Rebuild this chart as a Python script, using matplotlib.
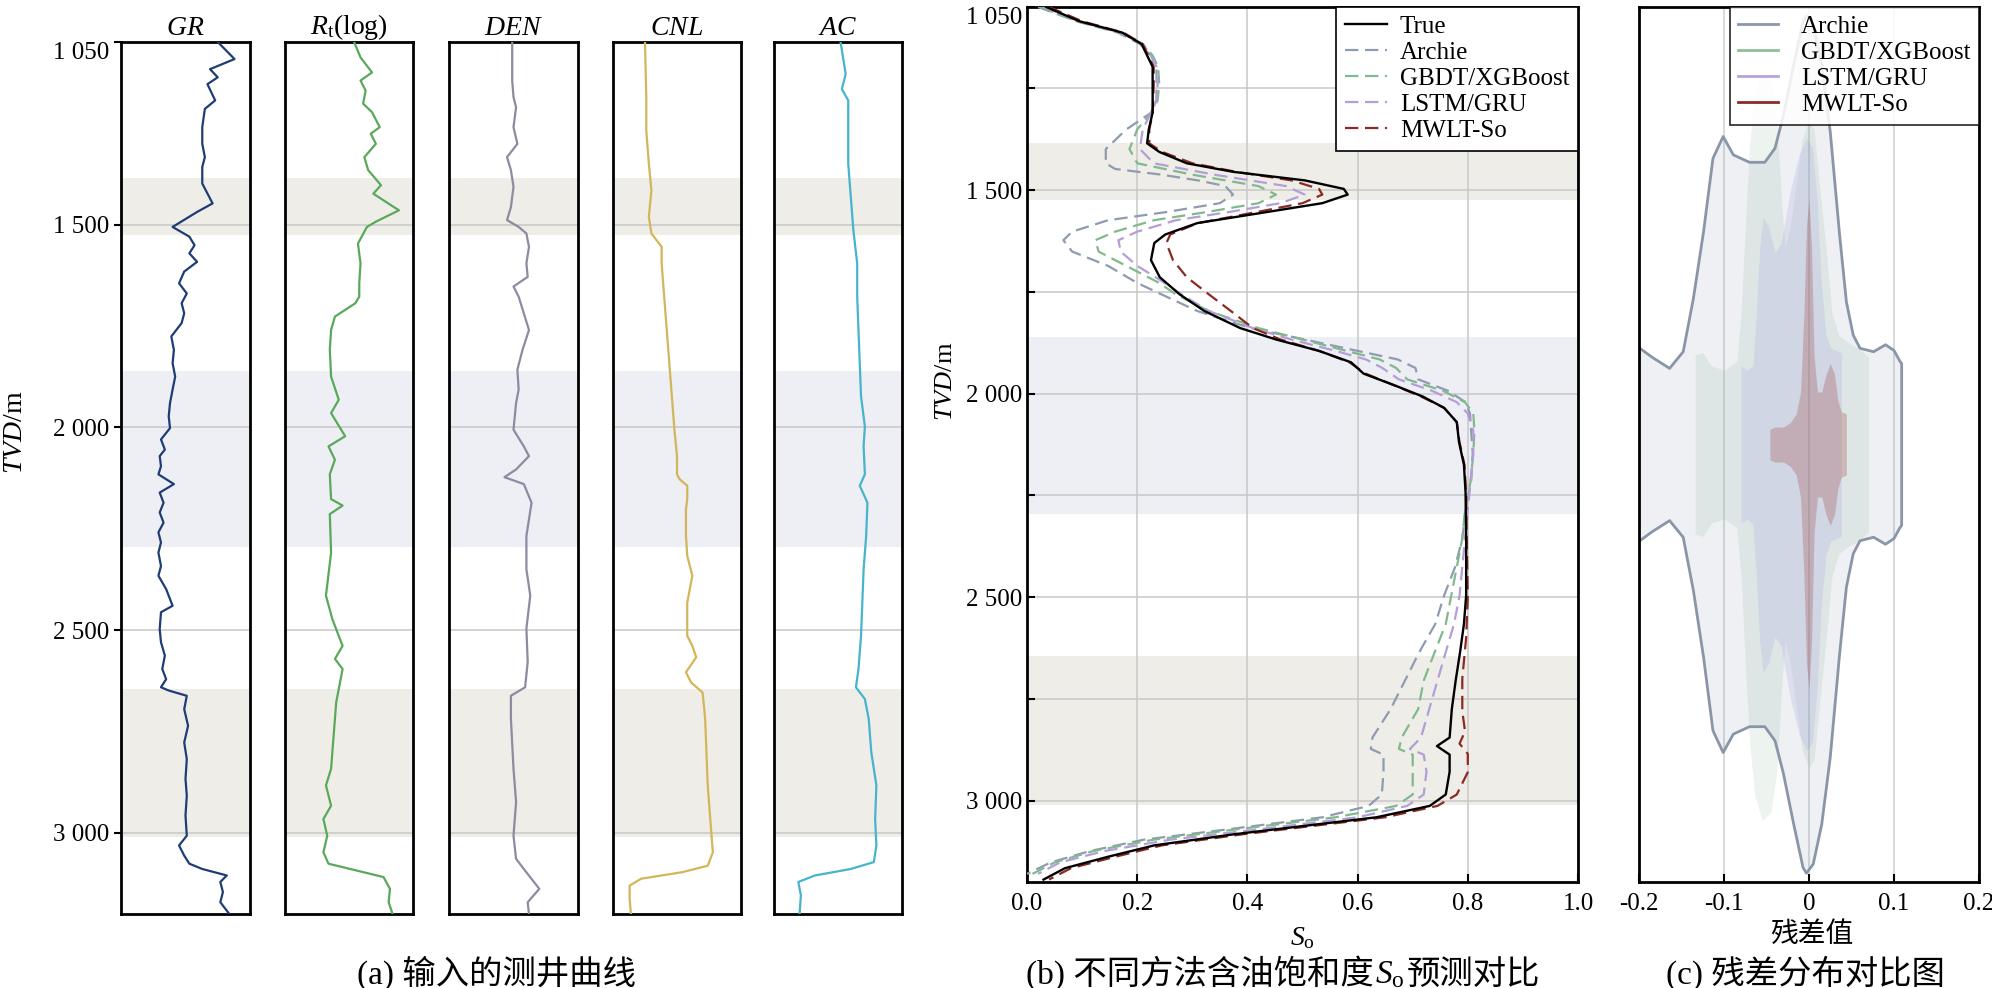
import numpy as np
import matplotlib
matplotlib.use('Agg')
import matplotlib.pyplot as plt
from matplotlib.lines import Line2D
from matplotlib.offsetbox import TextArea, HPacker, AnnotationBbox

plt.rcParams['font.family'] = ['Liberation Serif', 'Noto Sans CJK SC']
plt.rcParams['mathtext.fontset'] = 'custom'
plt.rcParams['mathtext.rm'] = 'Liberation Serif'
plt.rcParams['mathtext.it'] = 'Liberation Serif:italic'
plt.rcParams['axes.unicode_minus'] = False

# ---- data ----
# depth bands (m)
band_top = [1385, 1860, 2645]
band_bot = [1525, 2295, 3010]
band_col = ['#efede8', '#eeeef5', '#efede8']

depth_ticks = [1050, 1500, 2000, 2500, 3000]
depth_labels = ['1 050', '1 500', '2 000', '2 500', '3 000']

# input logs, (depth, position within track 0..1)
gr = [(1050, 0.75), (1092, 0.88), (1117, 0.69), (1137, 0.75), (1154, 0.67), (1194, 0.73),
      (1215, 0.65), (1260, 0.63), (1301, 0.63), (1334, 0.65), (1358, 0.63), (1399, 0.63),
      (1448, 0.71), (1469, 0.59), (1506, 0.40), (1530, 0.53), (1551, 0.57), (1571, 0.53),
      (1592, 0.59), (1616, 0.49), (1645, 0.45), (1670, 0.51), (1694, 0.47), (1719, 0.49),
      (1743, 0.47), (1776, 0.39), (1809, 0.41), (1842, 0.40), (1875, 0.42), (1907, 0.40),
      (1940, 0.38), (1973, 0.37), (2002, 0.38), (2030, 0.31), (2055, 0.34), (2071, 0.30),
      (2096, 0.31), (2116, 0.29), (2140, 0.41), (2161, 0.30), (2186, 0.33), (2210, 0.30),
      (2235, 0.33), (2259, 0.29), (2284, 0.31), (2309, 0.29), (2342, 0.31), (2366, 0.29),
      (2399, 0.35), (2440, 0.40), (2456, 0.31), (2498, 0.30), (2530, 0.31), (2563, 0.34),
      (2596, 0.32), (2621, 0.35), (2641, 0.31), (2649, 0.37), (2662, 0.51), (2695, 0.49),
      (2736, 0.52), (2777, 0.49), (2818, 0.51), (2867, 0.50), (2908, 0.51), (2957, 0.50),
      (3007, 0.51), (3031, 0.45), (3056, 0.49), (3076, 0.53), (3089, 0.63), (3105, 0.82),
      (3121, 0.77), (3146, 0.79), (3171, 0.77), (3200, 0.84)]
rt = [(1050, 0.54), (1088, 0.59), (1125, 0.68), (1145, 0.59), (1170, 0.63), (1202, 0.61),
      (1223, 0.68), (1260, 0.74), (1276, 0.67), (1301, 0.71), (1334, 0.62), (1366, 0.65),
      (1403, 0.75), (1424, 0.69), (1465, 0.89), (1493, 0.71), (1506, 0.64), (1547, 0.57),
      (1596, 0.59), (1645, 0.58), (1678, 0.58), (1694, 0.55), (1727, 0.39), (1760, 0.36),
      (1809, 0.35), (1875, 0.36), (1932, 0.42), (1965, 0.36), (2022, 0.47), (2047, 0.34),
      (2080, 0.39), (2116, 0.35), (2177, 0.36), (2193, 0.45), (2214, 0.35), (2309, 0.36),
      (2415, 0.32), (2473, 0.37), (2539, 0.45), (2571, 0.39), (2596, 0.45), (2678, 0.40),
      (2760, 0.38), (2842, 0.36), (2883, 0.32), (2933, 0.36), (2966, 0.30), (3007, 0.33),
      (3048, 0.30), (3076, 0.34), (3089, 0.51), (3109, 0.77), (3138, 0.82), (3171, 0.81),
      (3200, 0.84)]
den = [(1050, 0.49), (1145, 0.49), (1186, 0.50), (1211, 0.52), (1260, 0.50), (1301, 0.53),
       (1334, 0.45), (1366, 0.48), (1407, 0.50), (1457, 0.48), (1489, 0.45), (1506, 0.54),
       (1522, 0.60), (1555, 0.62), (1596, 0.60), (1629, 0.61), (1653, 0.50), (1678, 0.54),
       (1719, 0.58), (1760, 0.62), (1809, 0.57), (1858, 0.53), (1907, 0.54), (1940, 0.52),
       (2006, 0.50), (2047, 0.58), (2071, 0.62), (2104, 0.52), (2123, 0.43), (2140, 0.58),
       (2186, 0.64), (2268, 0.60), (2350, 0.60), (2415, 0.63), (2496, 0.60), (2579, 0.61),
       (2641, 0.59), (2662, 0.48), (2719, 0.48), (2842, 0.50), (2924, 0.52), (3007, 0.50),
       (3064, 0.52), (3089, 0.58), (3138, 0.70), (3171, 0.61), (3200, 0.62)]
cnl = [(1050, 0.25), (1186, 0.26), (1268, 0.26), (1350, 0.28), (1416, 0.30), (1481, 0.28),
       (1522, 0.30), (1555, 0.38), (1596, 0.38), (1678, 0.40), (1760, 0.42), (1842, 0.44),
       (1924, 0.46), (2006, 0.48), (2071, 0.50), (2116, 0.50), (2128, 0.52), (2144, 0.58),
       (2177, 0.58), (2202, 0.57), (2268, 0.57), (2317, 0.58), (2366, 0.62), (2432, 0.58),
       (2514, 0.58), (2539, 0.62), (2567, 0.65), (2604, 0.57), (2629, 0.61), (2654, 0.70),
       (2719, 0.72), (2801, 0.73), (2883, 0.74), (2966, 0.76), (3048, 0.78), (3081, 0.74),
       (3097, 0.54), (3113, 0.22), (3130, 0.13), (3163, 0.13), (3200, 0.14)]
ac = [(1050, 0.52), (1129, 0.56), (1166, 0.53), (1194, 0.58), (1268, 0.58), (1350, 0.58),
      (1432, 0.60), (1514, 0.62), (1596, 0.65), (1678, 0.65), (1760, 0.66), (1842, 0.67),
      (1924, 0.68), (1998, 0.71), (2047, 0.70), (2116, 0.71), (2144, 0.67), (2186, 0.73),
      (2268, 0.72), (2350, 0.70), (2432, 0.69), (2514, 0.68), (2596, 0.66), (2641, 0.64),
      (2670, 0.71), (2719, 0.74), (2801, 0.76), (2883, 0.80), (2966, 0.79), (3031, 0.80),
      (3072, 0.78), (3089, 0.60), (3105, 0.32), (3121, 0.19), (3154, 0.21), (3200, 0.20)]

log_names = ['$GR$', '$R_{\\mathrm{t}}$(log)', '$DEN$', '$CNL$', '$AC$']
log_data = [gr, rt, den, cnl, ac]

# So predictions, (depth, So)
so_true = [(1050, 0.035), (1085, 0.095), (1113, 0.173), (1141, 0.208), (1169, 0.218),
           (1197, 0.228), (1239, 0.228), (1309, 0.228), (1351, 0.221), (1385, 0.218),
           (1406, 0.24), (1434, 0.29), (1455, 0.374), (1476, 0.504), (1497, 0.575),
           (1511, 0.582), (1532, 0.536), (1553, 0.439), (1581, 0.309), (1609, 0.251),
           (1630, 0.231), (1672, 0.225), (1714, 0.241), (1756, 0.277), (1797, 0.322),
           (1839, 0.387), (1867, 0.452), (1895, 0.53), (1923, 0.588), (1951, 0.611),
           (1979, 0.666), (2007, 0.718), (2035, 0.757), (2070, 0.78), (2119, 0.784),
           (2175, 0.793), (2244, 0.796), (2356, 0.797), (2496, 0.797), (2566, 0.793),
           (2635, 0.786), (2705, 0.778), (2775, 0.771), (2845, 0.767), (2866, 0.744),
           (2887, 0.767), (2929, 0.767), (2985, 0.76), (3013, 0.731), (3041, 0.634),
           (3062, 0.504), (3083, 0.374), (3110, 0.231), (3138, 0.147), (3166, 0.069),
           (3194, 0.03)]
so_archie = [(1050, 0.02), (1085, 0.09), (1113, 0.165), (1141, 0.205), (1169, 0.225),
             (1197, 0.235), (1240, 0.235), (1280, 0.235), (1310, 0.225), (1351, 0.18),
             (1399, 0.143), (1434, 0.143), (1448, 0.16), (1462, 0.244), (1476, 0.31),
             (1490, 0.36), (1511, 0.374), (1532, 0.35), (1553, 0.257), (1574, 0.147),
             (1602, 0.082), (1623, 0.066), (1651, 0.082), (1686, 0.147), (1728, 0.2),
             (1756, 0.244), (1797, 0.309), (1839, 0.406), (1867, 0.504), (1895, 0.60),
             (1916, 0.673), (1937, 0.705), (1965, 0.71), (1993, 0.764), (2021, 0.796),
             (2049, 0.804), (2091, 0.806), (2147, 0.809), (2216, 0.806), (2286, 0.796),
             (2356, 0.79), (2426, 0.777), (2496, 0.757), (2566, 0.741), (2635, 0.712),
             (2705, 0.686), (2775, 0.66), (2845, 0.627), (2873, 0.624), (2887, 0.647),
             (2929, 0.647), (2985, 0.644), (3013, 0.62), (3041, 0.536), (3069, 0.374),
             (3096, 0.212), (3124, 0.114), (3152, 0.043), (3180, 0.0)]
so_gbdt = [(1050, 0.025), (1085, 0.09), (1113, 0.17), (1141, 0.21), (1169, 0.228),
           (1197, 0.238), (1240, 0.24), (1280, 0.237), (1310, 0.225), (1351, 0.2),
           (1399, 0.186), (1434, 0.2), (1462, 0.3), (1490, 0.42), (1511, 0.452),
           (1532, 0.42), (1553, 0.33), (1574, 0.23), (1602, 0.16), (1623, 0.124),
           (1651, 0.13), (1686, 0.18), (1728, 0.24), (1756, 0.27), (1797, 0.33),
           (1839, 0.42), (1867, 0.5), (1895, 0.58), (1916, 0.64), (1937, 0.67),
           (1965, 0.69), (1993, 0.755), (2021, 0.795), (2049, 0.81), (2091, 0.812),
           (2147, 0.81), (2216, 0.805), (2286, 0.795), (2356, 0.79), (2426, 0.78),
           (2496, 0.77), (2566, 0.76), (2635, 0.74), (2705, 0.72), (2775, 0.71),
           (2845, 0.68), (2873, 0.675), (2887, 0.70), (2929, 0.70), (2985, 0.70),
           (3013, 0.67), (3041, 0.56), (3069, 0.39), (3096, 0.23), (3124, 0.12),
           (3152, 0.05), (3180, 0.01)]
so_lstm = [(1050, 0.03), (1085, 0.095), (1113, 0.17), (1141, 0.21), (1169, 0.225),
           (1197, 0.235), (1240, 0.237), (1280, 0.235), (1310, 0.225), (1351, 0.21),
           (1399, 0.205), (1434, 0.23), (1462, 0.34), (1490, 0.47), (1511, 0.504),
           (1532, 0.46), (1553, 0.37), (1574, 0.27), (1602, 0.2), (1623, 0.166),
           (1651, 0.17), (1686, 0.2), (1728, 0.25), (1756, 0.28), (1797, 0.33),
           (1839, 0.41), (1867, 0.48), (1895, 0.56), (1916, 0.615), (1937, 0.645),
           (1965, 0.675), (1993, 0.735), (2021, 0.78), (2049, 0.8), (2091, 0.81),
           (2147, 0.81), (2216, 0.805), (2286, 0.8), (2356, 0.795), (2426, 0.79),
           (2496, 0.785), (2566, 0.775), (2635, 0.76), (2705, 0.745), (2775, 0.73),
           (2845, 0.715), (2873, 0.695), (2887, 0.72), (2929, 0.725), (2985, 0.72),
           (3013, 0.69), (3041, 0.6), (3069, 0.43), (3096, 0.26), (3124, 0.14),
           (3152, 0.06), (3180, 0.02)]
so_mwlt = [(1050, 0.04), (1085, 0.10), (1113, 0.175), (1141, 0.21), (1169, 0.22),
           (1197, 0.23), (1240, 0.23), (1310, 0.228), (1351, 0.222), (1385, 0.222),
           (1406, 0.245), (1434, 0.30), (1455, 0.38), (1476, 0.48), (1497, 0.53),
           (1511, 0.536), (1532, 0.50), (1553, 0.42), (1581, 0.31), (1609, 0.26),
           (1630, 0.253), (1672, 0.265), (1714, 0.29), (1756, 0.33), (1797, 0.37),
           (1839, 0.41), (1867, 0.46), (1895, 0.53), (1923, 0.585), (1951, 0.615),
           (1979, 0.665), (2007, 0.715), (2035, 0.757), (2070, 0.78), (2119, 0.785),
           (2175, 0.794), (2244, 0.797), (2356, 0.798), (2500, 0.80), (2600, 0.797),
           (2700, 0.79), (2780, 0.79), (2830, 0.795), (2860, 0.785), (2885, 0.80),
           (2930, 0.80), (2985, 0.78), (3013, 0.745), (3041, 0.65), (3062, 0.52),
           (3083, 0.39), (3110, 0.245), (3138, 0.16), (3166, 0.08), (3194, 0.04)]

method_names = ['True', 'Archie', 'GBDT/XGBoost', 'LSTM/GRU', 'MWLT-So']
so_data = [so_true, so_archie, so_gbdt, so_lstm, so_mwlt]

# residual violin half-widths, (residual, half width as fraction of panel half height)
vio_archie = [(-0.21, 0.22), (-0.199, 0.22), (-0.185, 0.20), (-0.164, 0.174), (-0.148, 0.212),
              (-0.136, 0.334), (-0.124, 0.487), (-0.113, 0.654), (-0.101, 0.704),
              (-0.089, 0.662), (-0.07, 0.645), (-0.052, 0.645), (-0.04, 0.677),
              (-0.03, 0.753), (-0.018, 0.868), (-0.007, 0.967), (-0.003, 0.98),
              (0.005, 0.959), (0.015, 0.868), (0.025, 0.715), (0.036, 0.479),
              (0.044, 0.326), (0.052, 0.25), (0.06, 0.22), (0.076, 0.212), (0.09, 0.228),
              (0.1, 0.215), (0.107, 0.19), (0.109, 0.185)]
vio_gbdt = [(-0.134, 0.205), (-0.125, 0.21), (-0.115, 0.18), (-0.1, 0.17), (-0.085, 0.19),
            (-0.08, 0.3), (-0.075, 0.5), (-0.07, 0.68), (-0.064, 0.80), (-0.055, 0.86),
            (-0.045, 0.84), (-0.038, 0.75), (-0.032, 0.55), (-0.028, 0.45), (-0.022, 0.5),
            (-0.015, 0.6), (-0.008, 0.7), (0.0, 0.74), (0.006, 0.72), (0.012, 0.6),
            (0.02, 0.45), (0.027, 0.3), (0.035, 0.25), (0.045, 0.235), (0.058, 0.22),
            (0.07, 0.2)]
vio_lstm = [(-0.08, 0.18), (-0.073, 0.17), (-0.066, 0.18), (-0.062, 0.3), (-0.058, 0.45),
            (-0.054, 0.52), (-0.048, 0.5), (-0.04, 0.44), (-0.033, 0.46), (-0.022, 0.58),
            (-0.012, 0.66), (-0.003, 0.70), (0.004, 0.68), (0.01, 0.55), (0.014, 0.38),
            (0.02, 0.25), (0.026, 0.22), (0.032, 0.215), (0.038, 0.21)]
vio_mwlt = [(-0.046, 0.035), (-0.04, 0.04), (-0.03, 0.04), (-0.022, 0.05), (-0.015, 0.07),
            (-0.01, 0.12), (-0.006, 0.3), (-0.003, 0.5), (0.0, 0.56), (0.003, 0.45),
            (0.006, 0.2), (0.01, 0.12), (0.015, 0.12), (0.02, 0.16), (0.025, 0.185),
            (0.03, 0.16), (0.034, 0.1), (0.038, 0.075), (0.044, 0.07)]
vio_data = [vio_archie, vio_gbdt, vio_lstm, vio_mwlt]

# ---- styles ----
log_colors = ['#1f3d75', '#5aa95a', '#8e8aa0', '#d3b55a', '#45b4cc']
so_colors = ['black', '#8e9bb0', '#80b98c', '#b39ed8', '#8b2a22']
vio_face = ['#8c9bb0', '#80b090', '#9898e0', '#a0463f']
vio_alpha = [0.14, 0.14, 0.2, 0.28]
FS = 18
CAP = 24

fig = plt.figure(figsize=(19.92, 9.88), dpi=100)
W, H = 1992.0, 988.0

def box(x0, x1, y0, y1):
    return [x0 / W, 1 - y1 / H, (x1 - x0) / W, (y1 - y0) / H]

# ---- (a) input logs ----
track_x = [(121, 250), (285, 413), (449, 578), (613, 741), (774, 902)]
for i, (x0, x1) in enumerate(track_x):
    ax = fig.add_axes(box(x0, x1, 42, 914))
    for t, b, c in zip(band_top, band_bot, band_col):
        ax.axhspan(t, b, color=c, lw=0, zorder=0)
    d, v = np.array(log_data[i]).T
    ax.plot(v, d, color=log_colors[i], lw=1.6, zorder=3)
    ax.set_ylim(3200, 1050)
    ax.set_xlim(0, 1)
    ax.set_xticks([])
    ax.set_yticks(depth_ticks)
    ax.grid(axis='y', color='#c8c8c8', lw=1.1, zorder=1)
    ax.set_axisbelow(True)
    for s in ax.spines.values():
        s.set_linewidth(2.0)
    ax.set_title(log_names[i], fontsize=20, pad=5)
    if i == 0:
        ax.set_yticklabels(depth_labels, fontsize=FS)
        ax.tick_params(axis='y', direction='out', length=5, width=1.5)
        ax.get_yticklabels()[0].set_va('top')
    else:
        ax.set_yticklabels([])
        ax.tick_params(axis='y', length=0)

fig.text(15 / W, 1 - 432 / H, '$TVD$/m', rotation=90, fontsize=20,
         ha='center', va='center')
fig.text(496 / W, 1 - 973 / H, '(a) 输入的测井曲线', fontsize=CAP,
         ha='center', va='center')

# ---- (b) So predictions ----
axb = fig.add_axes(box(1027, 1578, 7, 882))
for t, b, c in zip(band_top, band_bot, band_col):
    axb.axhspan(t, b, color=c, lw=0, zorder=0)
handles = []
for i, (name, data) in enumerate(zip(method_names, so_data)):
    d, v = np.array(data).T
    if i == 0:
        ln, = axb.plot(v, d, color=so_colors[i], lw=1.7, zorder=6, label=name)
    else:
        ln, = axb.plot(v, d, color=so_colors[i], lw=1.6, ls=(0, (6, 3)),
                       zorder=3 + i * 0.1 + (1 if i == 4 else 0), label=name)
    handles.append(ln)
axb.set_xlim(0, 1)
axb.set_ylim(3200, 1050)
axb.set_xticks(np.arange(0, 1.01, 0.2))
axb.set_xticklabels(['0.0', '0.2', '0.4', '0.6', '0.8', '1.0'], fontsize=FS)
axb.set_yticks([1050, 1250, 1500, 1750, 2000, 2250, 2500, 2750, 3000])
axb.set_yticklabels(['1 050', '', '1 500', '', '2 000', '', '2 500', '', '3 000'], fontsize=FS)
axb.get_yticklabels()[0].set_va('top')
axb.tick_params(direction='in', length=6, width=1.5)
axb.tick_params(axis='x', pad=8)
axb.grid(True, color='#c8c8c8', lw=1.1, zorder=1)
axb.set_axisbelow(True)
for s in axb.spines.values():
    s.set_linewidth(2.0)
leg = axb.legend(handles=handles, loc='upper right', borderaxespad=0, fontsize=18,
                 frameon=True, fancybox=False, edgecolor='black', framealpha=1,
                 handlelength=1.7, handletextpad=0.5, labelspacing=0.14, borderpad=0.35)
leg.get_frame().set_linewidth(1.2)
fig.text(946 / W, 1 - 381 / H, '$TVD$/m', rotation=90, fontsize=19,
         ha='center', va='center')
fig.text(1302 / W, 1 - 938 / H, '$S_{\\mathrm{o}}$', fontsize=20,
         ha='center', va='center')
cap_parts = [TextArea('(b) 不同方法含油饱和度', textprops=dict(fontsize=CAP)),
             TextArea('$S_{\\mathrm{o}}$', textprops=dict(fontsize=CAP)),
             TextArea('预测对比', textprops=dict(fontsize=CAP))]
cap_box = HPacker(children=cap_parts, align='baseline', pad=0, sep=1)
fig.add_artist(AnnotationBbox(cap_box, (1283 / W, 1 - 973 / H), xycoords='figure fraction',
                              frameon=False, box_alignment=(0.5, 0.5), pad=0))

# ---- (c) residual distributions ----
axc = fig.add_axes(box(1639, 1979, 7, 882))
for i, data in enumerate(vio_data):
    r, w = np.array(data).T
    axc.fill_between(r, -w, w, color=vio_face[i], alpha=vio_alpha[i], lw=0, zorder=2 + i)
r, w = np.array(vio_archie).T
axc.plot(np.r_[r, r[::-1], r[:1]], np.r_[w, -w[::-1], w[:1]], color='#8a96a8', lw=2.0, zorder=7)
axc.set_xlim(-0.2, 0.2)
axc.set_ylim(-1, 1)
axc.set_xticks([-0.2, -0.1, 0, 0.1, 0.2])
axc.set_xticklabels(['-0.2', '-0.1', '0', '0.1', '0.2'], fontsize=FS)
axc.set_yticks([])
axc.tick_params(axis='x', direction='in', length=6, width=1.5, pad=8)
axc.grid(axis='x', color='#d0d0d0', lw=1.1, zorder=8)
for s in axc.spines.values():
    s.set_linewidth(2.0)
    s.set_zorder(10)
leg_lines = [Line2D([], [], color=c, lw=2) for c in ['#8a96a8', '#8fbf9a', '#b8a3d8', '#8b2c26']]
leg2 = axc.legend(leg_lines, method_names[1:], loc='upper right', borderaxespad=0,
                  fontsize=18, frameon=True, fancybox=False, edgecolor='black',
                  framealpha=0.85, handlelength=1.6, handletextpad=0.9,
                  labelspacing=0.14, borderpad=0.35)
leg2.get_frame().set_linewidth(1.2)
leg2.set_zorder(20)
fig.text(1812 / W, 1 - 935 / H, '残差值', fontsize=20, ha='center', va='center')
fig.text(1806 / W, 1 - 973 / H, '(c) 残差分布对比图', fontsize=CAP,
         ha='center', va='center')

fig.savefig('out.png', dpi=100)
